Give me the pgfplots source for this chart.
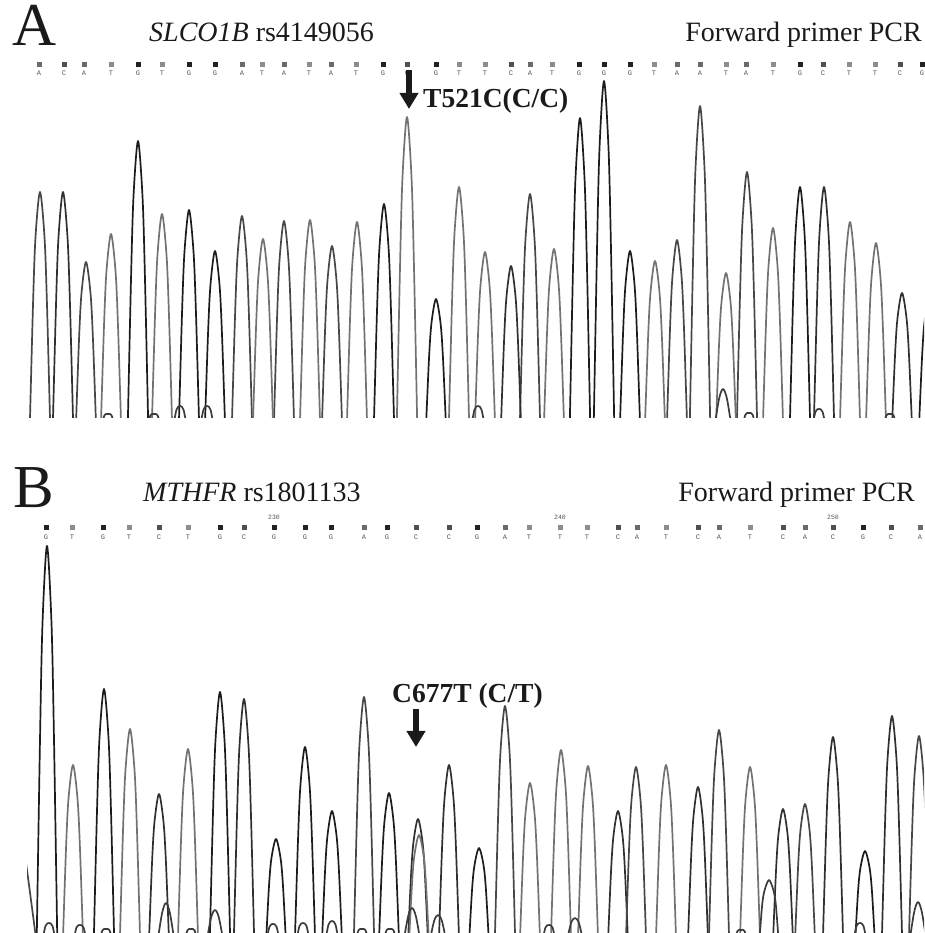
\documentclass[border=0pt]{standalone}
\usepackage{fontspec}
\setmainfont{Liberation Serif}
\newfontfamily\monofont{Liberation Mono}
\usepackage{pgfplots}
\pgfplotsset{compat=1.18}
\usepackage{pgfplotstable}
\usetikzlibrary{arrows.meta}

\definecolor{trG}{HTML}{1C1C1C}
\definecolor{trC}{HTML}{303030}
\definecolor{trA}{HTML}{474747}
\definecolor{trT}{HTML}{727272}
\definecolor{trM}{HTML}{3C3C3C}
\definecolor{sqG}{HTML}{222222}
\definecolor{sqC}{HTML}{505050}
\definecolor{sqA}{HTML}{6A6A6A}
\definecolor{sqT}{HTML}{8C8C8C}
\definecolor{letgray}{HTML}{555555}
\definecolor{ink}{HTML}{1A1A1A}

% called bases: x, square y, letter y, base
\pgfplotstableread{
x ys yl b
39 354 345 A
64 354 345 C
84 354 345 A
111 354 345 T
138 354 345 G
162 354 345 T
189 354 345 G
215 354 345 G
242 354 345 A
262 354 345 T
284 354 345 A
309 354 345 T
331 354 345 A
356 354 345 T
383 354 345 G
407 354 345 C
436 354 345 G
459 354 345 T
485 354 345 T
511 354 345 C
530 354 345 A
552 354 345 T
579 354 345 G
604 354 345 G
630 354 345 G
654 354 345 T
677 354 345 A
700 354 345 A
726 354 345 T
746 354 345 A
773 354 345 T
800 354 345 G
823 354 345 C
849 354 345 T
875 354 345 T
900 354 345 C
922 354 345 G
}\basesA

\pgfplotstableread{
x ys yl b
46 406 396 G
72 406 396 T
103 406 396 G
129 406 396 T
159 406 396 C
188 406 396 T
220 406 396 G
244 406 396 C
274 406 396 G
305 406 396 G
331 406 396 G
364 406 396 A
387 406 396 G
416 406 396 C
449 406 396 C
477 406 396 G
505 406 396 A
529 406 396 T
560 406 396 T
587 406 396 T
618 406 396 C
637 406 396 A
666 406 396 T
698 406 396 C
719 406 396 A
750 406 396 T
783 406 396 C
805 406 396 A
833 406 396 C
863 406 396 G
891 406 396 C
920 406 396 A
}\basesB

\pgfplotsset{
  trace/.style={smooth, line width=1.7pt, line join=round, mark=none},
  squares/.style={scatter, only marks, scatter src=explicit symbolic, mark size=2pt,
    scatter/classes={G={mark=square*,sqG}, C={mark=square*,sqC}, A={mark=square*,sqA}, T={mark=square*,sqT}}},
  letters/.style={draw=none, mark=none, nodes near coords, point meta=explicit symbolic,
    nodes near coords style={anchor=center, inner sep=0pt, font=\monofont\fontsize{7}{7}\selectfont, text=letgray}},
  chrom/.style={anchor=south west, scale only axis, width=897pt,
    xmin=27, xmax=924, ymin=0, axis lines=none, ticks=none,
    clip mode=individual, unbounded coords=jump},
}

\begin{document}
\begin{tikzpicture}

% ---------------- panel A ----------------
\begin{axis}[chrom, at={(27pt,515pt)}, height=363pt, ymax=363]
\addplot[squares] table[x=x, y=ys, meta=b] {\basesA};
\addplot[letters] table[x=x, y=yl, meta=b] {\basesA};

% G trace
\addplot[trace, trG] coordinates {
(127.5,-20)(131,138.5)(133.5,221.6)(138,277)(142.5,221.6)(145,138.5)(148.5,-20) (nan,nan)
(178.5,-20)(182,104)(184.5,166.4)(189,208)(193.5,166.4)(196,104)(199.5,-20) (nan,nan)
(204.5,-20)(208,83.5)(210.5,133.6)(215,167)(219.5,133.6)(222,83.5)(225.5,-20) (nan,nan)
(373.5,-20)(377,107)(379.5,171.2)(384,214)(388.5,171.2)(391,107)(394.5,-20) (nan,nan)
(425.5,-20)(429,59.5)(431.5,95.2)(436,119)(440.5,95.2)(443,59.5)(446.5,-20) (nan,nan)
(569.5,-20)(573,150)(575.5,240)(580,300)(584.5,240)(587,150)(590.5,-20) (nan,nan)
(593.5,-20)(597,168.5)(599.5,269.6)(604,337)(608.5,269.6)(611,168.5)(614.5,-20) (nan,nan)
(619.5,-20)(623,83.5)(625.5,133.6)(630,167)(634.5,133.6)(637,83.5)(640.5,-20) (nan,nan)
(789.5,-20)(793,115.5)(795.5,184.8)(800,231)(804.5,184.8)(807,115.5)(810.5,-20) (nan,nan)
(918.5,-20)(922,60)(924.5,96)(929,120)(933.5,96)(936,60)(939.5,-20)
};

% A trace
\addplot[trace, trA] coordinates {
(29.5,-20)(33,113)(35.5,180.8)(40,226)(44.5,180.8)(47,113)(50.5,-20) (nan,nan)
(75.5,-20)(79,78)(81.5,124.8)(86,156)(90.5,124.8)(93,78)(96.5,-20) (nan,nan)
(231.5,-20)(235,101)(237.5,161.6)(242,202)(246.5,161.6)(249,101)(252.5,-20) (nan,nan)
(273.5,-20)(277,98.5)(279.5,157.6)(284,197)(288.5,157.6)(291,98.5)(294.5,-20) (nan,nan)
(321.5,-20)(325,86)(327.5,137.6)(332,172)(336.5,137.6)(339,86)(342.5,-20) (nan,nan)
(519.5,-20)(523,112)(525.5,179.2)(530,224)(534.5,179.2)(537,112)(540.5,-20) (nan,nan)
(666.5,-20)(670,89)(672.5,142.4)(677,178)(681.5,142.4)(684,89)(687.5,-20) (nan,nan)
(689.5,-20)(693,156)(695.5,249.6)(700,312)(704.5,249.6)(707,156)(710.5,-20) (nan,nan)
(736.5,-20)(740,123)(742.5,196.8)(747,246)(751.5,196.8)(754,123)(757.5,-20)
};

% C trace
\addplot[trace, trC] coordinates {
(52.5,-20)(56,113)(58.5,180.8)(63,226)(67.5,180.8)(70,113)(73.5,-20) (nan,nan)
(500.5,-20)(504,76)(506.5,121.6)(511,152)(515.5,121.6)(518,76)(521.5,-20) (nan,nan)
(813.5,-20)(817,115.5)(819.5,184.8)(824,231)(828.5,184.8)(831,115.5)(834.5,-20) (nan,nan)
(891.5,-20)(895,62.5)(897.5,100)(902,125)(906.5,100)(909,62.5)(912.5,-20)
};

% T trace
\addplot[trace, trT] coordinates {
(100.5,-20)(104,92)(106.5,147.2)(111,184)(115.5,147.2)(118,92)(121.5,-20) (nan,nan)
(151.5,-20)(155,102)(157.5,163.2)(162,204)(166.5,163.2)(169,102)(172.5,-20) (nan,nan)
(252.5,-20)(256,89.5)(258.5,143.2)(263,179)(267.5,143.2)(270,89.5)(273.5,-20) (nan,nan)
(299.5,-20)(303,99)(305.5,158.4)(310,198)(314.5,158.4)(317,99)(320.5,-20) (nan,nan)
(346.5,-20)(350,98)(352.5,156.8)(357,196)(361.5,156.8)(364,98)(367.5,-20) (nan,nan)
(396.5,-20)(400,150.5)(402.5,240.8)(407,301)(411.5,240.8)(414,150.5)(417.5,-20) (nan,nan)
(448.5,-20)(452,115.5)(454.5,184.8)(459,231)(463.5,184.8)(466,115.5)(469.5,-20) (nan,nan)
(474.5,-20)(478,83)(480.5,132.8)(485,166)(489.5,132.8)(492,83)(495.5,-20) (nan,nan)
(543.5,-20)(547,84.5)(549.5,135.2)(554,169)(558.5,135.2)(561,84.5)(564.5,-20) (nan,nan)
(644.5,-20)(648,78.5)(650.5,125.6)(655,157)(659.5,125.6)(662,78.5)(665.5,-20) (nan,nan)
(715.5,-20)(719,72.5)(721.5,116)(726,145)(730.5,116)(733,72.5)(736.5,-20) (nan,nan)
(762.5,-20)(766,95)(768.5,152)(773,190)(777.5,152)(780,95)(783.5,-20) (nan,nan)
(839.5,-20)(843,98)(845.5,156.8)(850,196)(854.5,156.8)(857,98)(860.5,-20) (nan,nan)
(865.5,-20)(869,87.5)(871.5,140)(876,175)(880.5,140)(883,87.5)(886.5,-20)
};

% minor peaks near the baseline
\addplot[trace, trM] coordinates {
(101,-10)(104.5,2.8)(108,4)(111.5,2.8)(115,-10) (nan,nan)
(147,-10)(150.5,2.8)(154,4)(157.5,2.8)(161,-10) (nan,nan)
(173,-10)(176.5,8.4)(180,12)(183.5,8.4)(187,-10) (nan,nan)
(200,-10)(203.5,8.4)(207,12)(210.5,8.4)(214,-10) (nan,nan)
(471,-10)(474.5,8.4)(478,12)(481.5,8.4)(485,-10) (nan,nan)
(714,-12)(719,19)(723,29)(727,19)(732,-12) (nan,nan)
(742,-10)(745.5,3.5)(749,5)(752.5,3.5)(756,-10) (nan,nan)
(812,-10)(815.5,6.3)(819,9)(822.5,6.3)(826,-10) (nan,nan)
(883,-10)(886.5,2.8)(890,4)(893.5,2.8)(897,-10)
};
\end{axis}

% ---------------- panel B ----------------
\begin{axis}[chrom, at={(27pt,0pt)}, height=423pt, ymax=423]
\addplot[squares] table[x=x, y=ys, meta=b] {\basesB};
\addplot[letters] table[x=x, y=yl, meta=b] {\basesB};
\addplot[draw=none, mark=none, nodes near coords, point meta=explicit symbolic,
  nodes near coords style={anchor=center, inner sep=0pt, font=\monofont\fontsize{6.5}{6.5}\selectfont, text=letgray}]
  coordinates {(274,416)[230] (560,416)[240] (833,416)[250]};

% G trace
\addplot[trace, trG] coordinates {
(36.5,-20)(40,193.5)(42.5,309.6)(47,387)(51.5,309.6)(54,193.5)(57.5,-20) (nan,nan)
(93.5,-20)(97,122)(99.5,195.2)(104,244)(108.5,195.2)(111,122)(114.5,-20) (nan,nan)
(209.5,-20)(213,120.5)(215.5,192.8)(220,241)(224.5,192.8)(227,120.5)(230.5,-20) (nan,nan)
(265.5,-20)(269,47)(271.5,75.2)(276,94)(280.5,75.2)(283,47)(286.5,-20) (nan,nan)
(294.5,-20)(298,93)(300.5,148.8)(305,186)(309.5,148.8)(312,93)(315.5,-20) (nan,nan)
(321.5,-20)(325,61)(327.5,97.6)(332,122)(336.5,97.6)(339,61)(342.5,-20) (nan,nan)
(378.5,-20)(382,70)(384.5,112)(389,140)(393.5,112)(396,70)(399.5,-20) (nan,nan)
(468.5,-20)(472,42.5)(474.5,68)(479,85)(483.5,68)(486,42.5)(489.5,-20) (nan,nan)
(854.5,-20)(858,41)(860.5,65.6)(865,82)(869.5,65.6)(872,41)(875.5,-20)
};

% C trace
\addplot[trace, trC] coordinates {
(148.5,-20)(152,69.5)(154.5,111.2)(159,139)(163.5,111.2)(166,69.5)(169.5,-20) (nan,nan)
(233.5,-20)(237,117)(239.5,187.2)(244,234)(248.5,187.2)(251,117)(254.5,-20) (nan,nan)
(407.5,-20)(411,57)(413.5,91.2)(418,114)(422.5,91.2)(425,57)(428.5,-20) (nan,nan)
(438.5,-20)(442,84)(444.5,134.4)(449,168)(453.5,134.4)(456,84)(459.5,-20) (nan,nan)
(607.5,-20)(611,61)(613.5,97.6)(618,122)(622.5,97.6)(625,61)(628.5,-20) (nan,nan)
(687.5,-20)(691,73)(693.5,116.8)(698,146)(702.5,116.8)(705,73)(708.5,-20) (nan,nan)
(772.5,-20)(776,62)(778.5,99.2)(783,124)(787.5,99.2)(790,62)(793.5,-20) (nan,nan)
(822.5,-20)(826,98)(828.5,156.8)(833,196)(837.5,156.8)(840,98)(843.5,-20) (nan,nan)
(881.5,-20)(885,108.5)(887.5,173.6)(892,217)(896.5,173.6)(899,108.5)(902.5,-20)
};

% A trace
\addplot[trace, trA] coordinates {
(353.5,-20)(357,118)(359.5,188.8)(364,236)(368.5,188.8)(371,118)(374.5,-20) (nan,nan)
(494.5,-20)(498,113.5)(500.5,181.6)(505,227)(509.5,181.6)(512,113.5)(515.5,-20) (nan,nan)
(625.5,-20)(629,83)(631.5,132.8)(636,166)(640.5,132.8)(643,83)(646.5,-20) (nan,nan)
(708.5,-20)(712,101.5)(714.5,162.4)(719,203)(723.5,162.4)(726,101.5)(729.5,-20) (nan,nan)
(794.5,-20)(798,64.5)(800.5,103.2)(805,129)(809.5,103.2)(812,64.5)(815.5,-20) (nan,nan)
(908.5,-20)(912,98.5)(914.5,157.6)(919,197)(923.5,157.6)(926,98.5)(929.5,-20)
};

% T trace
\addplot[trace, trT] coordinates {
(62.5,-20)(66,84)(68.5,134.4)(73,168)(77.5,134.4)(80,84)(83.5,-20) (nan,nan)
(119.5,-20)(123,102)(125.5,163.2)(130,204)(134.5,163.2)(137,102)(140.5,-20) (nan,nan)
(177.5,-20)(181,92)(183.5,147.2)(188,184)(192.5,147.2)(195,92)(198.5,-20) (nan,nan)
(408.5,-20)(412,49)(414.5,78.4)(419,98)(423.5,78.4)(426,49)(429.5,-20) (nan,nan)
(519.5,-20)(523,75)(525.5,120)(530,150)(534.5,120)(537,75)(540.5,-20) (nan,nan)
(550.5,-20)(554,91.5)(556.5,146.4)(561,183)(565.5,146.4)(568,91.5)(571.5,-20) (nan,nan)
(577.5,-20)(581,83.5)(583.5,133.6)(588,167)(592.5,133.6)(595,83.5)(598.5,-20) (nan,nan)
(655.5,-20)(659,84)(661.5,134.4)(666,168)(670.5,134.4)(673,84)(676.5,-20) (nan,nan)
(739.5,-20)(743,83)(745.5,132.8)(750,166)(754.5,132.8)(757,83)(760.5,-20)
};

% trace entering at the left edge
\addplot[trace, trA] coordinates {(22,100) (29,48) (36,-5)};

% minor peaks near the baseline
\addplot[trace, trM] coordinates {
(42,-10)(45.5,7)(49,10)(52.5,7)(56,-10) (nan,nan)
(73,-10)(76.5,5.6)(80,8)(83.5,5.6)(87,-10) (nan,nan)
(99,-10)(102.5,2.8)(106,4)(109.5,2.8)(113,-10) (nan,nan)
(157,-12)(162,19.5)(166,30)(170,19.5)(175,-12) (nan,nan)
(184,-10)(187.5,2.8)(191,4)(194.5,2.8)(198,-10) (nan,nan)
(206,-12)(211,15)(215,23)(219,15)(224,-12) (nan,nan)
(266,-10)(269.5,6.3)(273,9)(276.5,6.3)(280,-10) (nan,nan)
(296,-10)(299.5,7)(303,10)(306.5,7)(310,-10) (nan,nan)
(325,-10)(328.5,8.4)(332,12)(335.5,8.4)(339,-10) (nan,nan)
(355,-10)(358.5,2.8)(362,4)(365.5,2.8)(369,-10) (nan,nan)
(383,-10)(386.5,2.8)(390,4)(393.5,2.8)(397,-10) (nan,nan)
(403,-12)(408,16.3)(412,25)(416,16.3)(421,-12) (nan,nan)
(429,-12)(434,11.7)(438,18)(442,11.7)(447,-12) (nan,nan)
(542,-10)(545.5,5.6)(549,8)(552.5,5.6)(556,-10) (nan,nan)
(566,-12)(571,9.8)(575,15)(579,9.8)(584,-12) (nan,nan)
(734,-10)(737.5,2.1)(741,3)(744.5,2.1)(748,-10) (nan,nan)
(758.5,-20)(762,26.5)(764.5,42.4)(769,53)(773.5,42.4)(776,26.5)(779.5,-20) (nan,nan)
(853,-10)(856.5,7)(860,10)(863.5,7)(867,-10) (nan,nan)
(909,-12)(914,20.2)(918,31)(922,20.2)(927,-12)
};
\end{axis}

% ---------------- titles and annotations ----------------
\node[anchor=base west, inner sep=0pt, text=ink, font=\fontsize{61}{61}\selectfont] at (12pt,887pt) {A};
\node[anchor=base west, inner sep=0pt, text=ink, font=\fontsize{28}{28}\selectfont] at (149pt,891pt) {\textit{SLCO1B} rs4149056};
\node[anchor=base east, inner sep=0pt, text=ink, font=\fontsize{28}{28}\selectfont] at (922pt,891pt) {Forward primer PCR};
\node[anchor=base west, inner sep=0pt, text=ink, font=\bfseries\fontsize{27.5}{27.5}\selectfont] at (423pt,825pt) {T521C(C/C)};
\draw[ink, line width=6pt, -{Triangle[width=18pt,length=16pt]}] (409pt,863pt) -- (409pt,824pt);

\node[anchor=base west, inner sep=0pt, text=ink, font=\fontsize{61}{61}\selectfont] at (13pt,425pt) {B};
\node[anchor=base west, inner sep=0pt, text=ink, font=\fontsize{28}{28}\selectfont] at (143pt,431pt) {\textit{MTHFR} rs1801133};
\node[anchor=base east, inner sep=0pt, text=ink, font=\fontsize{28}{28}\selectfont] at (915pt,431pt) {Forward primer PCR};
\node[anchor=base west, inner sep=0pt, text=ink, font=\bfseries\fontsize{27.5}{27.5}\selectfont] at (392pt,230pt) {C677T (C/T)};
\draw[ink, line width=5.5pt, -{Triangle[width=18pt,length=16pt]}] (416pt,224pt) -- (416pt,186pt);

\pgfresetboundingbox
\useasboundingbox (0pt,0pt) rectangle (924pt,933pt);
\end{tikzpicture}
\end{document}
